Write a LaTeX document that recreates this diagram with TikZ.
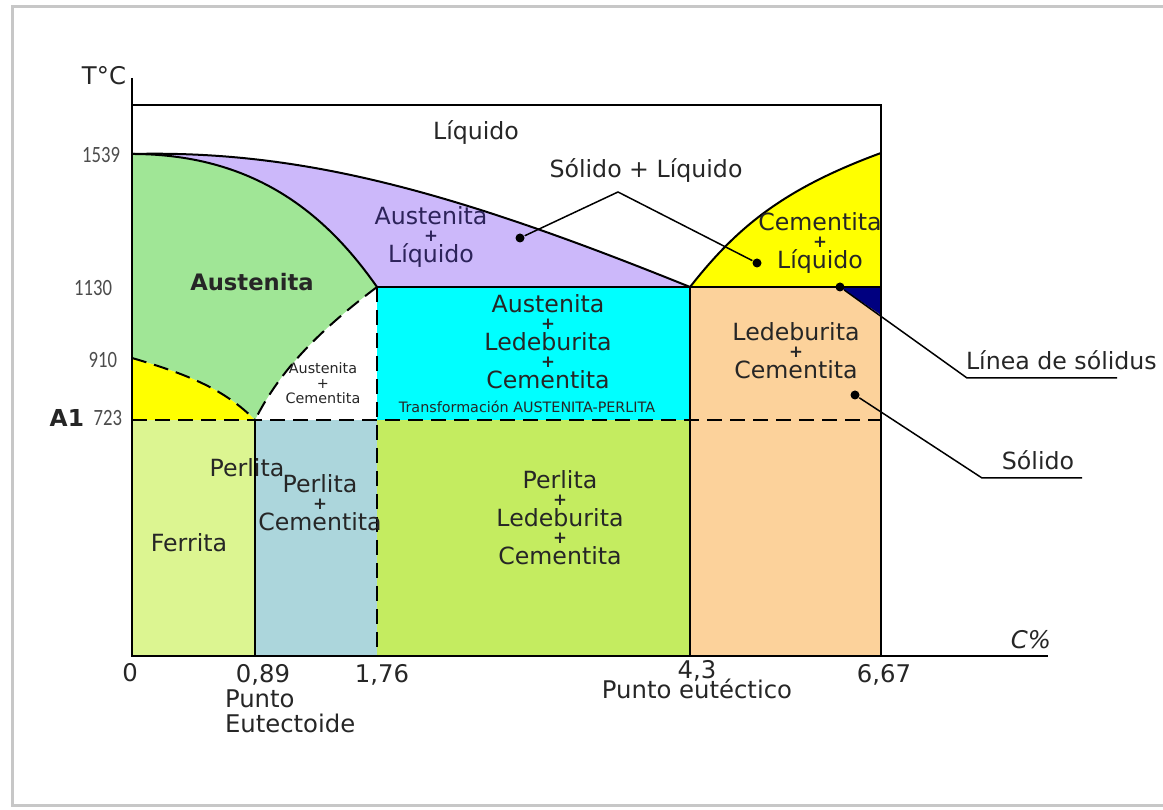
\documentclass[tikz,border=0pt]{standalone}
\usepackage{fontspec}
\setmainfont{DejaVu Sans}
\newfontfamily\narrowfont[FakeStretch=0.8]{Carlito}
\usetikzlibrary{positioning}
\definecolor{austgreen}{RGB}{160,230,150}
\definecolor{lilac}{RGB}{204,184,250}
\definecolor{lilactext}{RGB}{45,35,90}
\definecolor{ledcyan}{RGB}{0,255,255}
\definecolor{cemyellow}{RGB}{255,255,0}
\definecolor{peach}{RGB}{252,210,155}
\definecolor{solnavy}{RGB}{0,0,128}
\definecolor{ferrgreen}{RGB}{220,245,145}
\definecolor{perlblue}{RGB}{172,214,220}
\definecolor{ledlime}{RGB}{196,236,96}
\newcommand{\phasefont}{\fontsize{7.1}{5.7}\selectfont\lineskiplimit=-20pt\relax}
\newcommand{\tinyfont}{\fontsize{4.3}{4.5}\selectfont\lineskiplimit=-20pt\relax}
\newcommand{\pls}{\raisebox{0.7pt}{\fontsize{5}{5}\selectfont\textbf{+}}}
\tikzset{
  phase/.style={align=center, inner sep=1pt, font=\phasefont, text=black!85},
  phasesm/.style={align=center, inner sep=1pt, font=\tinyfont, text=black!85},
  axlbl/.style={inner sep=1pt, font=\fontsize{7.3}{7.5}\selectfont, text=black!85},
  tempval/.style={anchor=east, inner sep=1pt, font=\narrowfont\fontsize{7}{7}\selectfont, text=black!70},
  dot/.style={circle, fill=black, inner sep=0pt, minimum size=2.7pt},
  bound/.style={line width=0.6pt},
  isoline/.style={line width=0.6pt, dash pattern=on 4.5pt off 2.4pt},
  lead/.style={line width=0.45pt},
}
\begin{document}
\begin{tikzpicture}[x=0.3pt, y=-0.3pt, node distance=1pt]
  \useasboundingbox (0,0) rectangle (1163,810);
  \draw[black!22, line width=0.9pt] (1163,7) -- (12,7) -- (12,806) -- (1163,806);

  % phase fields
  \fill[lilac] (132,154) .. controls (300,150) and (450,190) .. (690,287) -- (377,287)
    .. controls (330,220) and (260,154) .. (132,154) -- cycle;
  \fill[austgreen] (132,154) .. controls (260,154) and (330,220) .. (377,287)
    .. controls (320,330) and (280,370) .. (255,420)
    .. controls (225,390) and (190,375) .. (132,358) -- cycle;
  \fill[cemyellow] (132,358) .. controls (190,375) and (225,390) .. (255,420) -- (132,420) -- cycle;
  \fill[ledcyan] (377,287) rectangle (690,420);
  \fill[cemyellow] (690,287) .. controls (735,230) and (780,190) .. (881,153) -- (881,287) -- cycle;
  \fill[peach] (690,287) rectangle (881,656);
  \fill[solnavy] (840,287) -- (881,287) -- (881,315) -- cycle;
  \fill[ferrgreen] (132,420) rectangle (255,656);
  \fill[perlblue] (255,420) rectangle (377,656);
  \fill[ledlime] (377,420) rectangle (690,656);

  % boundaries
  \draw[bound] (132,154) .. controls (300,150) and (450,190) .. (690,287);
  \draw[bound] (132,154) .. controls (260,154) and (330,220) .. (377,287);
  \draw[bound] (690,287) .. controls (735,230) and (780,190) .. (881,153);
  \draw[isoline] (377,287) .. controls (320,330) and (280,370) .. (255,420);
  \draw[isoline] (132,358) .. controls (190,375) and (225,390) .. (255,420);
  \draw[isoline] (132,420) -- (881,420);
  \draw[isoline] (377,287) -- (377,656);
  \draw[bound] (377,287) -- (881,287);
  \draw[bound] (255,420) -- (255,656);
  \draw[bound] (690,287) -- (690,656);
  \draw[bound] (132,105) -- (881,105) -- (881,656);
  \draw[line width=0.75pt] (132,78) -- (132,656) -- (1048,656);

  % axes
  \node[axlbl] (tc) at (104,76) {T°C};
  \node[axlbl] (cpct) at (1031,640) {\itshape C\%};
  \node[tempval] (v1539) at (124,155) {1539};
  \node[tempval] (v1130) at (116,288) {1130};
  \node[tempval] (v910) at (121,360) {910};
  \node[tempval] (v723) at (126,418) {723};
  \node[axlbl, anchor=east, font=\fontsize{7}{7}\selectfont\bfseries] (aone) at (88,418) {A1};
  \node[axlbl] (t0) at (130,673) {0};
  \node[axlbl] (t089) at (263,675) {0,89};
  \node[axlbl] (t176) at (382,675) {1,76};
  \node[axlbl] (t43) at (697,671) {4,3};
  \node[axlbl] (t667) at (884,675) {6,67};
  \node[axlbl, align=left, anchor=west, font=\fontsize{7.3}{7.5}\selectfont] (ptoeutd) at (221,711) {Punto\\Eutectoide};
  \node[axlbl, below=-3pt of t43] (ptoeut) {Punto eutéctico};

  % fields
  \node[phase] (liq) at (476,133) {Líquido};
  \node[phase] (solliq) at (646,171) {Sólido + Líquido};
  \node[phase, text=lilactext] (austliq) at (431,237) {Austenita\\\pls\\Líquido};
  \node[phase, font=\fontsize{6.8}{7}\selectfont\bfseries] (aust) at (252,282) {Austenita};
  \node[phasesm] (austcem) at (323,383) {Austenita\\+\\Cementita};
  \node[phase] (austled) at (548,342) {Austenita\\\pls\\Ledeburita\\\pls\\Cementita};
  \node[phasesm] (transf) at (527,407) {Transformación AUSTENITA-PERLITA};
  \node[phase] (cemliq) at (820,243) {Cementita\\\pls\\Líquido};
  \node[phase] (ledcem) at (796,351) {Ledeburita\\\pls\\Cementita};
  \node[phase] (perl) at (247,468) {Perlita};
  \node[phase] (perlcem) at (320,503) {Perlita\\\pls\\Cementita};
  \node[phase] (ferr) at (189,543) {Ferrita};
  \node[phase] (perlled) at (560,518) {Perlita\\\pls\\Ledeburita\\\pls\\Cementita};

  % pointers
  \node[dot] (d1) at (520,238) {};
  \node[dot] (d2) at (757,263) {};
  \node[dot] (d3) at (840,287) {};
  \node[dot] (d4) at (855,395) {};
  \coordinate (apex) at (618,192);
  \coordinate (u1a) at (967,378);
  \coordinate (u1b) at (1117,378);
  \coordinate (u2a) at (982,478);
  \coordinate (u2b) at (1082,478);
  \node[phase, anchor=west] (linsol) at (962,360) {Línea de sólidus};
  \node[phase] (sol) at (1038,460) {Sólido};
  \draw[lead] (d1) -- (apex) -- (d2);
  \draw[lead] (d3) -- (u1a) -- (u1b);
  \draw[lead] (d4) -- (u2a) -- (u2b);
\end{tikzpicture}
\end{document}
